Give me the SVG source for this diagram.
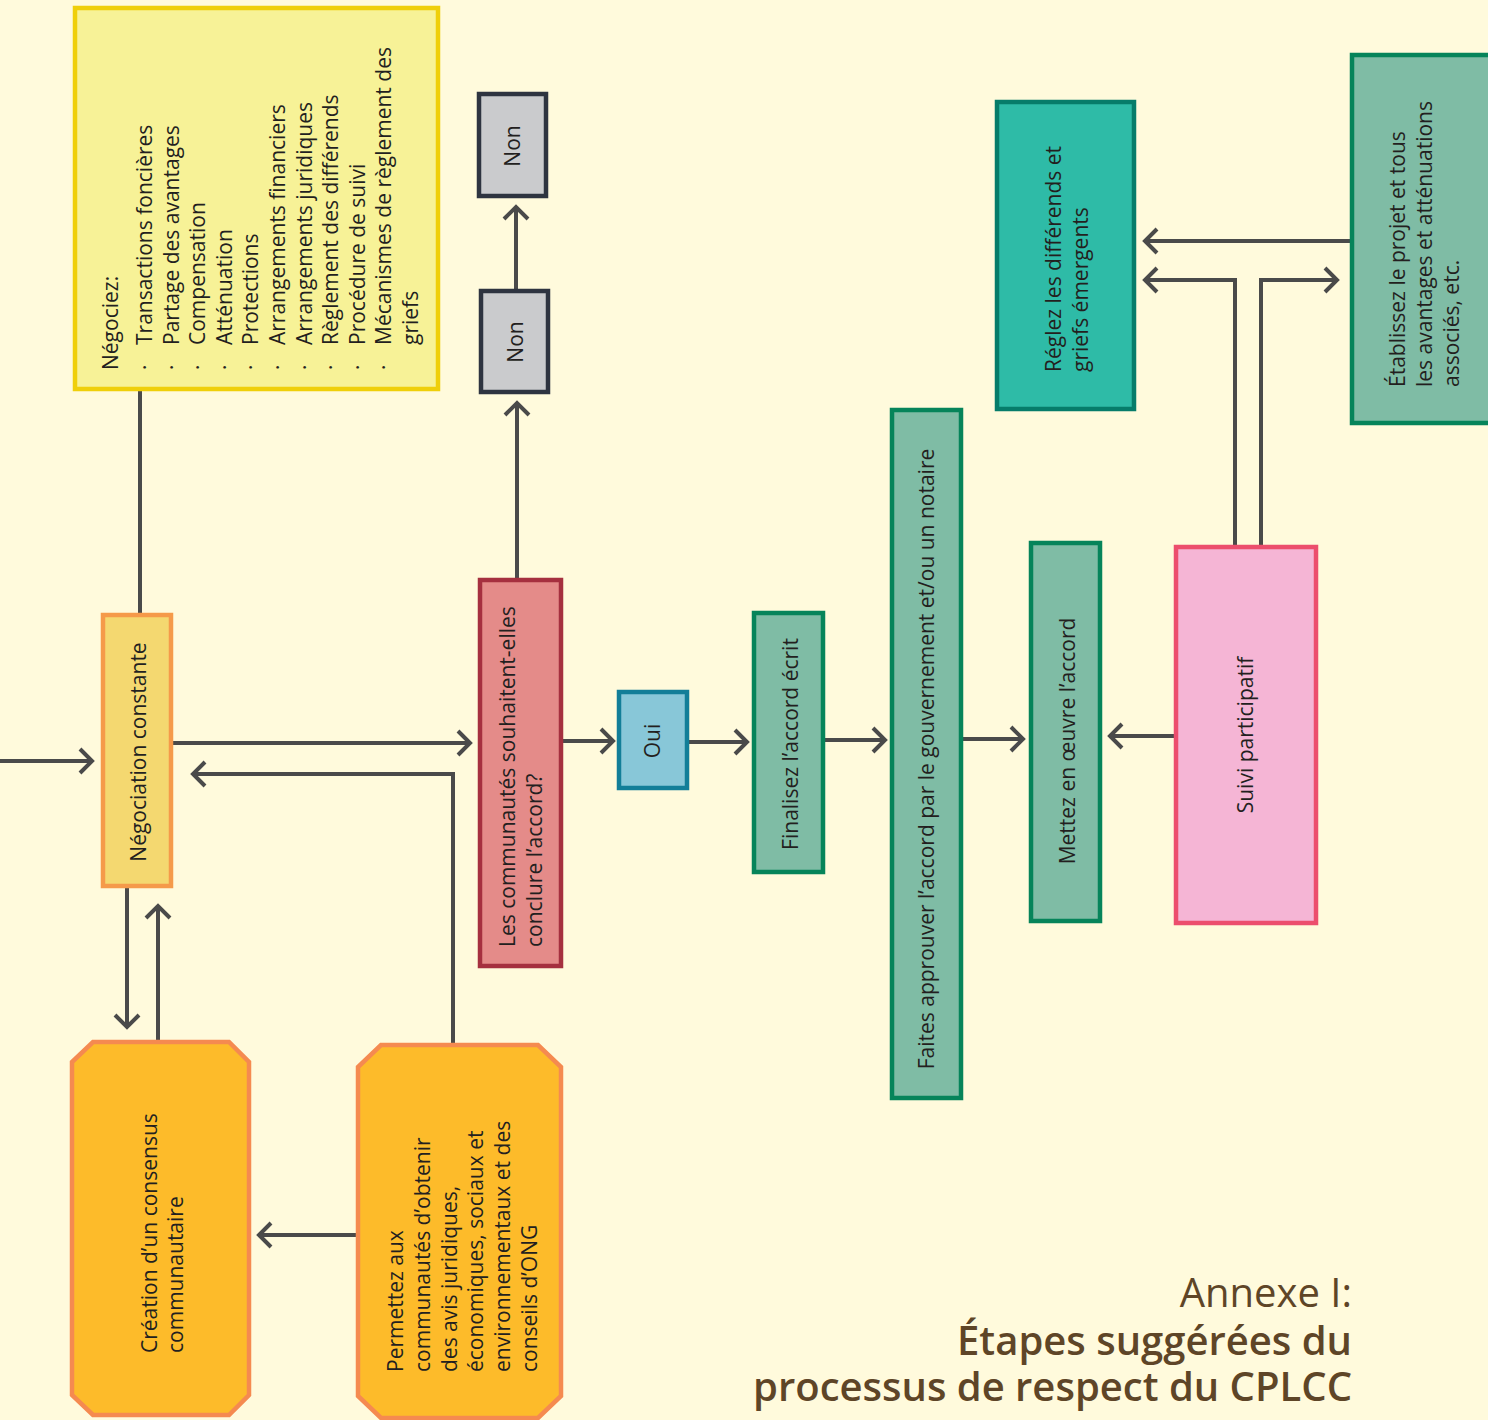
<svg xmlns="http://www.w3.org/2000/svg" width="1488" height="1420" viewBox="0 0 1488 1420">
<defs>
<style>
.bg{fill:#fffadc}
.t{font-family:"Open Sans","Noto Sans","Liberation Sans",sans-serif;font-size:21px;fill:#231f20}
.c{text-anchor:middle}
.ln{fill:none;stroke:#4a4a4a;stroke-width:4;stroke-linejoin:miter}
.ar{marker-end:url(#ah)}
.b{stroke-width:4.5}
.yel{fill:#f7f297;stroke:#efcf0a}
.gry{fill:#cacbcd;stroke:#2e3440}
.red{fill:#e48b89;stroke:#a5303f}
.neg{fill:#f4d870;stroke:#f59a4a}
.oui{fill:#88c7d8;stroke:#127e98}
.grn{fill:#7fbca5;stroke:#06845a}
.tea{fill:#2ebba7;stroke:#067c6a}
.pnk{fill:#f5b5d5;stroke:#ec4e6d}
.org{fill:#fdbb2a;stroke:#f58a50}
.ttl{font-family:"Open Sans","Noto Sans",sans-serif;font-size:40px;fill:#5e4527;text-anchor:end}
</style>
<marker id="ah" markerUnits="userSpaceOnUse" markerWidth="32" markerHeight="32" viewBox="-16 -16 32 32" refX="0" refY="0" orient="auto" overflow="visible">
<path d="M-12,-12 L0,0 L-12,12" fill="none" stroke="#4a4a4a" stroke-width="4"/>
</marker>
</defs>
<rect class="bg" x="0" y="0" width="1488" height="1420"/>

<g id="connectors">
<path class="ln" d="M140 391 V614"/>
<path class="ln ar" d="M0 761 H92"/>
<path class="ln ar" d="M172 743 H470"/>
<path class="ln ar" d="M453 1043 V774 H193"/>
<path class="ln ar" d="M127 887 V1027"/>
<path class="ln ar" d="M158 1040 V906"/>
<path class="ln ar" d="M357 1235 H259"/>
<path class="ln ar" d="M517 579 V403"/>
<path class="ln ar" d="M516 290 V207"/>
<path class="ln ar" d="M562 741 H613"/>
<path class="ln ar" d="M688 742 H747"/>
<path class="ln ar" d="M824 740 H885"/>
<path class="ln ar" d="M962 739 H1023"/>
<path class="ln ar" d="M1175 736 H1110"/>
<path class="ln ar" d="M1351 241 H1145"/>
<path class="ln ar" d="M1235 546 V280 H1145"/>
<path class="ln ar" d="M1261 546 V280 H1337"/>
</g>

<g id="negociez">
<rect class="yel b" x="75" y="8" width="363" height="381"/>
<g transform="rotate(-90)" class="t">
<text x="-370" y="118">Négociez:</text>
<text>
<tspan x="-370" y="152">·</tspan><tspan x="-370" y="178.6">·</tspan><tspan x="-370" y="205.2">·</tspan><tspan x="-370" y="231.8">·</tspan><tspan x="-370" y="258.4">·</tspan><tspan x="-370" y="285">·</tspan><tspan x="-370" y="311.6">·</tspan><tspan x="-370" y="338.2">·</tspan><tspan x="-370" y="364.8">·</tspan><tspan x="-370" y="391.4">·</tspan>
</text>
<text>
<tspan x="-345" y="152">Transactions foncières</tspan>
<tspan x="-345" y="178.6">Partage des avantages</tspan>
<tspan x="-345" y="205.2">Compensation</tspan>
<tspan x="-345" y="231.8">Atténuation</tspan>
<tspan x="-345" y="258.4">Protections</tspan>
<tspan x="-345" y="285">Arrangements financiers</tspan>
<tspan x="-345" y="311.6">Arrangements juridiques</tspan>
<tspan x="-345" y="338.2">Règlement des différends</tspan>
<tspan x="-345" y="364.8">Procédure de suivi</tspan>
<tspan x="-345" y="391.4">Mécanismes de règlement des</tspan>
<tspan x="-345" y="418">griefs</tspan>
</text>
</g>
</g>

<g id="non1">
<rect class="gry b" x="479" y="94" width="67" height="102"/>
<text class="t c" transform="rotate(-90)" x="-146" y="520">Non</text>
</g>

<g id="non2">
<rect class="gry b" x="481" y="291" width="67" height="101"/>
<text class="t c" transform="rotate(-90)" x="-342" y="523">Non</text>
</g>

<g id="question">
<rect class="red b" x="480" y="580" width="81" height="386"/>
<g transform="rotate(-90)" class="t">
<text x="-947" y="515">Les communautés souhaitent-elles</text>
<text x="-947" y="542">conclure l’accord?</text>
</g>
</g>

<g id="negociation">
<rect class="neg b" x="103" y="615" width="68" height="271"/>
<text class="t c" transform="rotate(-90)" x="-752" y="146">Négociation constante</text>
</g>

<g id="consensus">
<path class="org b" d="M93 1042 H229 L249 1062 V1395 L229 1415 H93 L72 1395 V1062 Z"/>
<g transform="rotate(-90)" class="t">
<text x="-1353" y="157">Création d’un consensus</text>
<text x="-1353" y="183">communautaire</text>
</g>
</g>

<g id="avis">
<path class="org b" d="M381 1045 H538 L561 1067 V1396 L538 1418 H381 L358 1396 V1067 Z"/>
<g transform="rotate(-90)" class="t">
<text x="-1372" y="403">Permettez aux</text>
<text x="-1372" y="430">communautés d’obtenir</text>
<text x="-1372" y="456.5">des avis juridiques,</text>
<text x="-1372" y="483">économiques, sociaux et</text>
<text x="-1372" y="510">environnementaux et des</text>
<text x="-1372" y="537">conseils d’ONG</text>
</g>
</g>

<g id="oui">
<rect class="oui b" x="619" y="692" width="68" height="96"/>
<text class="t c" transform="rotate(-90)" x="-741" y="660">Oui</text>
</g>

<g id="finalisez">
<rect class="grn b" x="754" y="613" width="69" height="259"/>
<text class="t c" transform="rotate(-90)" x="-744" y="798">Finalisez l’accord écrit</text>
</g>

<g id="faites">
<rect class="grn b" x="892" y="410" width="69" height="688"/>
<text class="t c" transform="rotate(-90)" x="-759" y="934">Faites approuver l’accord par le gouvernement et/ou un notaire</text>
</g>

<g id="mettez">
<rect class="grn b" x="1031" y="543" width="69" height="378"/>
<text class="t c" transform="rotate(-90)" x="-741" y="1075">Mettez en œuvre l’accord</text>
</g>

<g id="suivi">
<rect class="pnk b" x="1176" y="547" width="140" height="376"/>
<text class="t c" transform="rotate(-90)" x="-735" y="1253">Suivi participatif</text>
</g>

<g id="reglez">
<rect class="tea b" x="997" y="102" width="137" height="307"/>
<g transform="rotate(-90)" class="t">
<text x="-372" y="1061">Réglez les différends et</text>
<text x="-372" y="1088">griefs émergents</text>
</g>
</g>

<g id="etablissez">
<rect class="grn b" x="1352" y="55" width="142" height="368"/>
<g transform="rotate(-90)" class="t">
<text x="-387" y="1405">Établissez le projet et tous</text>
<text x="-387" y="1432">les avantages et atténuations</text>
<text x="-387" y="1459">associés, etc.</text>
</g>
</g>

<g id="title">
<text class="ttl" x="1352" y="1307">Annexe I:</text>
<text class="ttl" x="1352" y="1355" font-weight="600">Étapes suggérées du</text>
<text class="ttl" x="1352" y="1401" font-weight="600">processus de respect du CPLCC</text>
</g>
</svg>
